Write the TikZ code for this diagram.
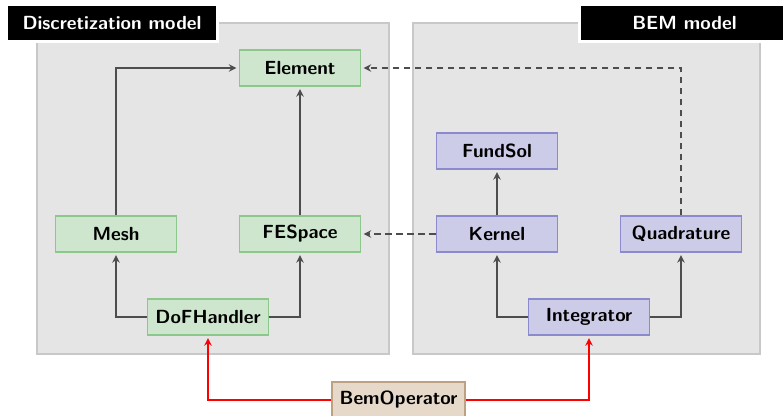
\documentclass[tikz,border=0pt]{standalone}
\usetikzlibrary{arrows.meta}
\definecolor{panelfill}{RGB}{229,229,229}
\definecolor{panelline}{RGB}{200,200,200}
\definecolor{gfill}{RGB}{205,230,205}
\definecolor{gline}{RGB}{140,200,140}
\definecolor{bfill}{RGB}{204,204,232}
\definecolor{bline}{RGB}{138,138,204}
\definecolor{ofill}{RGB}{230,217,201}
\definecolor{oline}{RGB}{190,160,130}
\definecolor{conncol}{RGB}{77,77,77}
\begin{document}
\begin{tikzpicture}[x=1pt,y=-1pt,
  font=\sffamily\bfseries\fontsize{19}{22}\selectfont,
  panel/.style={fill=panelfill,draw=panelline,line width=1.6pt},
  lbl/.style={fill=black,text=white,draw=white,line width=3pt,minimum width=211pt,minimum height=37pt,inner sep=0pt},
  box/.style={draw,line width=1.3pt,minimum width=121pt,minimum height=36pt,inner sep=7.5pt},
  gbox/.style={box,fill=gfill,draw=gline},
  bbox/.style={box,fill=bfill,draw=bline},
  obox/.style={box,fill=ofill,draw=oline},
  tip/.style={-{Stealth[length=7.5pt,width=7.5pt,inset=2.5pt]},shorten >=2.5pt},
  conn/.style={tip,draw=conncol,line width=2pt},
  dconn/.style={conn,dash pattern=on 6.5pt off 4.5pt},
  rconn/.style={tip,draw=red,line width=1.7pt}]
\useasboundingbox (0,0) rectangle (783,415);
\draw[panel] (37,23) rectangle (389,354);
\draw[panel] (413,23) rectangle (760,354);
\node[lbl] (ldisc) at (112,23) {Discretization model};
\node[lbl] (lbem) at (684.5,23) {BEM model};
\node[gbox] (element) at (300,68) {Element};
\node[gbox] (mesh) at (116,234) {Mesh};
\node[gbox] (fespace) at (300,234) {FESpace};
\node[gbox] (dof) at (208,317) {DoFHandler};
\node[bbox] (fundsol) at (497,151) {FundSol};
\node[bbox] (kernel) at (497,234) {Kernel};
\node[bbox] (quad) at (681,234) {Quadrature};
\node[bbox] (integ) at (589,317) {Integrator};
\node[obox] (bem) at (398.5,400) {BemOperator};
\draw[conn] (mesh.north) |- (element.west);
\draw[conn] (fespace) -- (element);
\draw[conn] (dof.west) -| (mesh.south);
\draw[conn] (dof.east) -| (fespace.south);
\draw[conn] (kernel) -- (fundsol);
\draw[conn] (integ.west) -| (kernel.south);
\draw[conn] (integ.east) -| (quad.south);
\draw[dconn] (kernel.west) -- (fespace.east);
\draw[dconn] (quad.north) |- (element.east);
\draw[rconn] (bem.west) -| (dof.south);
\draw[rconn] (bem.east) -| (integ.south);
\end{tikzpicture}
\end{document}
